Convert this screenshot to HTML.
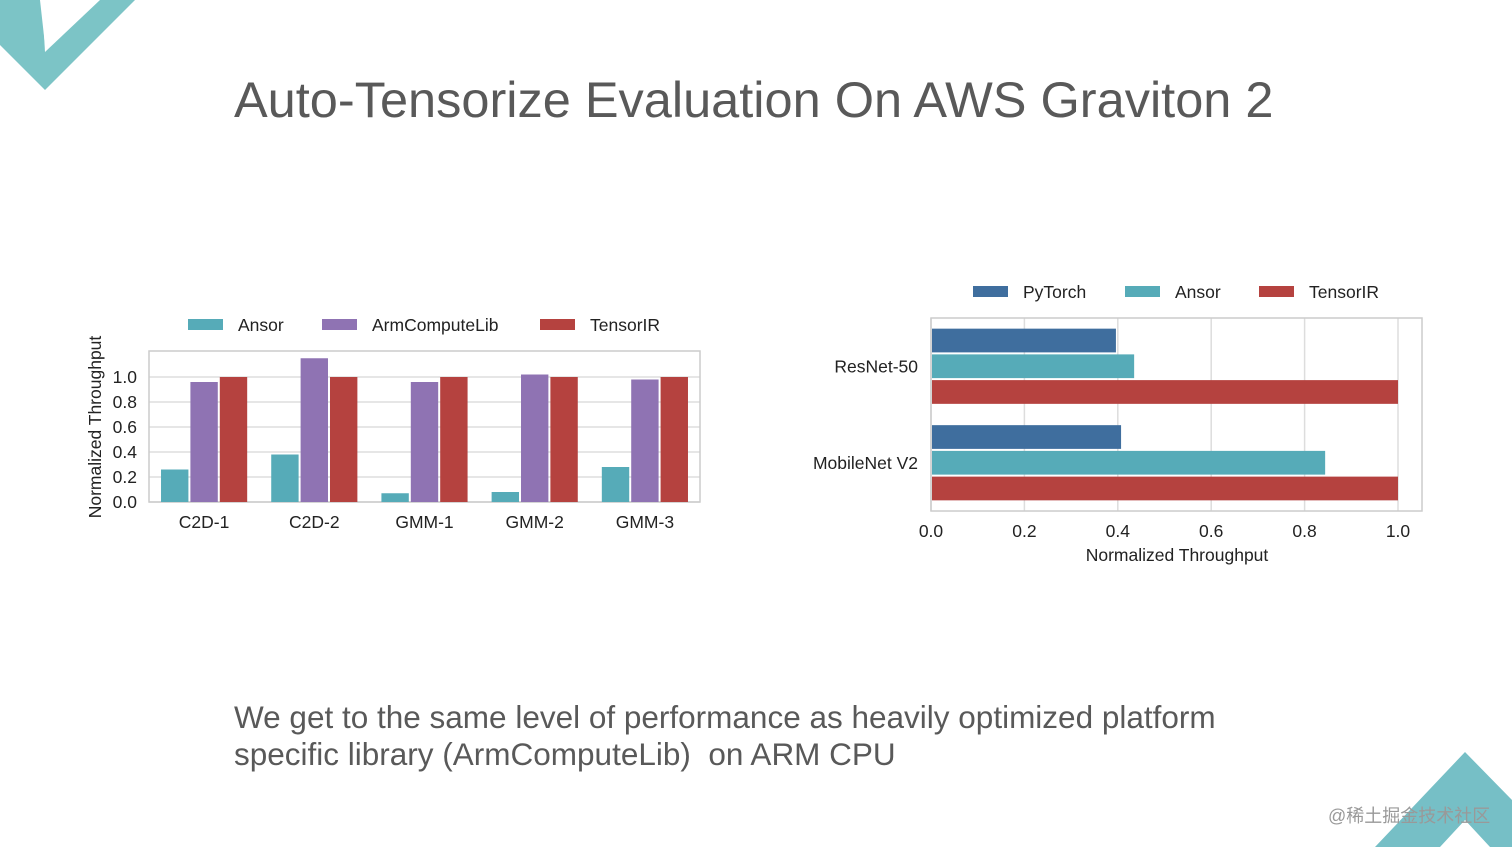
<!DOCTYPE html>
<html><head><meta charset="utf-8"><style>
body{margin:0;width:1512px;height:847px;background:#fff;overflow:hidden;position:relative;font-family:"Liberation Sans",sans-serif}
.t{position:absolute;color:#555}
</style></head><body>
<svg width="1512" height="847" style="position:absolute;left:0;top:0">
<g>
<polygon points="0,0 40,0 45,45 95,0 135,0 45,90 0,45" fill="#7cc4c6"/>
<polygon points="42,0 100,0 45,52 " fill="#fff"/>
</g>
<g>
<polygon points="1375,847 1465,752 1512,800 1512,847 1490,847 1465,820 1440,847" fill="#76bfc6"/>
</g>
<g id="left"></g>
<g id="right"></g>
</svg>
<div class="t" style="left:234px;top:70px;font-size:50.5px;color:#595959">Auto-Tensorize Evaluation On AWS Graviton 2</div>
<div class="t" style="left:234px;top:699px;font-size:31.5px;line-height:37px;color:#595959">We get to the same level of performance as heavily optimized platform<br>specific library (ArmComputeLib)&nbsp; on ARM CPU</div>
<div class="t" style="left:1328px;top:802px;font-size:18px;color:#999;font-family:'Liberation Sans','Noto Sans CJK SC',sans-serif">@稀土掘金技术社区</div>
<script>
const NS="http://www.w3.org/2000/svg";
function mk(p,t,a,txt){const e=document.createElementNS(NS,t);for(const k in a)e.setAttribute(k,a[k]);if(txt!==undefined)e.textContent=txt;p.appendChild(e);return e;}
// Left chart data
const lCats=["C2D-1","C2D-2","GMM-1","GMM-2","GMM-3"];
const lSeries=["Ansor","ArmComputeLib","TensorIR"];
const lAnsor=[0.26,0.38,0.07,0.08,0.28];
const lArm=[0.96,1.15,0.96,1.02,0.98];
const lTir=[1.0,1.0,1.0,1.0,1.0];
const lTicks=[0,0.2,0.4,0.6,0.8,1.0];
// Right chart data
const rCats=["ResNet-50","MobileNet V2"];
const rSeries=["PyTorch","Ansor","TensorIR"];
const rPyTorch=[0.396,0.407];
const rAnsor=[0.435,0.844];
const rTir=[1.0,1.0];
const rTicks=[0,0.2,0.4,0.6,0.8,1.0];

const FS=17.5;
const L=document.getElementById('left');
const lx0=149,lx1=700,ly0=351,ly1=502,lymax=1.208;
const ly=v=>ly1-v/lymax*(ly1-ly0);
const band=(lx1-lx0)/lCats.length;
lTicks.forEach(t=>{
 const g=mk(L,'line',{x1:lx0,x2:lx1,y1:ly(t),y2:ly(t),stroke:'#ddd','stroke-width':1.5});
 
 const tx=mk(L,'text',{x:137,y:ly(t)+6,'text-anchor':'end','font-size':FS,fill:'#222'},t.toFixed(1));
 
});
mk(L,'rect',{x:lx0,y:ly0,width:lx1-lx0,height:ly1-ly0,fill:'none',stroke:'#ccc','stroke-width':1.5});
const lCols=['#56abb8','#8f73b3','#b5423f'];
const lVals=[lAnsor,lArm,lTir];
const bw=band*0.8/3;
lCats.forEach((c,i)=>{
 const cx=lx0+band*(i+0.5);
 lVals.forEach((arr,s)=>{
  const x=cx-band*0.4+bw*s;
  const r=mk(L,'rect',{x:x+1,y:ly(arr[i]),width:bw-2,height:ly1-ly(arr[i]),fill:lCols[s]});
  
  
 });
 const tx=mk(L,'text',{x:cx,y:528,'text-anchor':'middle','font-size':FS,fill:'#222'},c);
 
});
const yt=mk(L,'text',{x:0,y:0,transform:'translate(101,427) rotate(-90)','text-anchor':'middle','font-size':FS,fill:'#222'},'Normalized Throughput');

const lLegX=[188,322,540];
lSeries.forEach((s,i)=>{
 const r=mk(L,'rect',{x:lLegX[i],y:319,width:35,height:11,fill:lCols[i]});
 
 const t=mk(L,'text',{x:lLegX[i]+50,y:331,'font-size':FS,fill:'#222'},s);
 
});

const R=document.getElementById('right');
const rx0=931,rx1=1422,ry0=318,ry1=511,rxmax=(1422-931)/467;
const rx=v=>rx0+v/rxmax*(rx1-rx0);
const rb=(ry1-ry0)/rCats.length;
rTicks.forEach(t=>{
 const g=mk(R,'line',{x1:rx(t),x2:rx(t),y1:ry0,y2:ry1,stroke:'#ddd','stroke-width':1.5});
 
 const tx=mk(R,'text',{x:rx(t),y:537,'text-anchor':'middle','font-size':FS,fill:'#222'},t.toFixed(1));
 
});
mk(R,'rect',{x:rx0,y:ry0,width:rx1-rx0,height:ry1-ry0,fill:'none',stroke:'#ccc','stroke-width':1.5});
const rCols=['#3f6e9e','#56abb8','#b5423f'];
const rVals=[rPyTorch,rAnsor,rTir];
const bh=rb*0.8/3;
rCats.forEach((c,i)=>{
 const cy=ry0+rb*(i+0.5);
 rVals.forEach((arr,s)=>{
  const y=cy-rb*0.4+bh*s;
  const r=mk(R,'rect',{x:rx0+1,y:y+1,width:rx(arr[i])-rx0-1,height:bh-2,fill:rCols[s]});
  
  
 });
 const tx=mk(R,'text',{x:918,y:cy+6,'text-anchor':'end','font-size':FS,fill:'#222'},c);
 
});
const xt=mk(R,'text',{x:1177,y:561,'text-anchor':'middle','font-size':FS,fill:'#222'},'Normalized Throughput');

const rLegX=[973,1125,1259];
rSeries.forEach((s,i)=>{
 const r=mk(R,'rect',{x:rLegX[i],y:286,width:35,height:11,fill:rCols[i]});
 
 const t=mk(R,'text',{x:rLegX[i]+50,y:298,'font-size':FS,fill:'#222'},s);
 
});
</script>
</body></html>
